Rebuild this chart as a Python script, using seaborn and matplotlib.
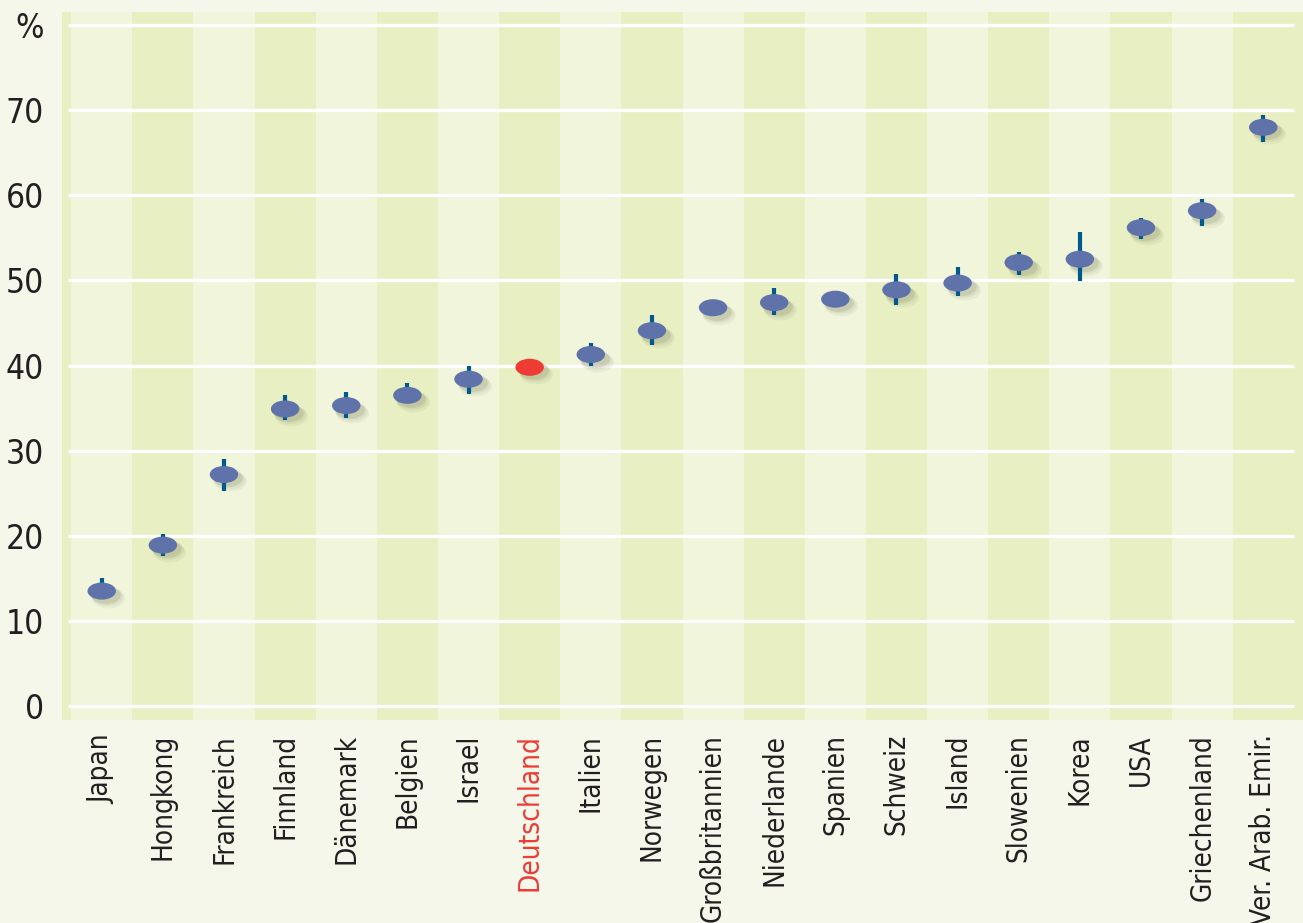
import numpy as np
import pandas as pd
import matplotlib
matplotlib.use("Agg")
import matplotlib.pyplot as plt
import matplotlib.path as mpath
import matplotlib.transforms as mtrans
import seaborn as sns

# Werte
laender = ["Japan", "Hongkong", "Frankreich", "Finnland", "Dänemark", "Belgien",
           "Israel", "Deutschland", "Italien", "Norwegen", "Großbritannien",
           "Niederlande", "Spanien", "Schweiz", "Island", "Slowenien", "Korea",
           "USA", "Griechenland", "Ver. Arab. Emir."]
werte = [13.5, 18.9, 27.2, 34.9, 35.3, 36.5, 38.4, 39.8, 41.3, 44.1,
         46.8, 47.4, 47.8, 48.9, 49.7, 52.1, 52.5, 56.2, 58.2, 68.0]
unten = [12.6, 17.6, 25.3, 33.6, 33.8, 35.6, 36.7, 39.8, 39.9, 42.4,
         46.8, 45.9, 47.8, 47.1, 48.2, 50.7, 49.9, 54.9, 56.4, 66.3]
oben = [15.0, 20.2, 29.0, 36.6, 36.9, 37.9, 40.0, 39.8, 42.6, 45.9,
        46.8, 49.1, 47.8, 50.8, 51.6, 53.4, 55.7, 57.4, 59.6, 69.5]
yticks = [0, 10, 20, 30, 40, 50, 60, 70, 80]
ylabels = ["0", "10", "20", "30", "40", "50", "60", "70", "%"]

df = pd.DataFrame({"land": laender, "wert": werte, "unten": unten, "oben": oben})
df["farbe"] = np.where(df["land"] == "Deutschland", "de", "andere")

sns.set_theme(style="white")
plt.rcParams["font.family"] = ["DejaVu Sans"]
plt.rcParams["font.stretch"] = "condensed"

bg = "#f5f7ea"
hell = "#f0f5db"
dunkel = "#e7efc3"

fig = plt.figure(figsize=(13.03, 9.23), dpi=100, facecolor=bg)
ax = fig.add_axes([62 / 1303, 1 - 720 / 923, 1 - 62 / 1303, (720 - 12) / 923])
ax.set_facecolor(dunkel)

# helle Streifen
for i in range(0, len(laender), 2):
    ax.axvspan(i - 0.5, i + 0.5, color=hell, lw=0, zorder=0)

# weisse Gitterlinien
ax.hlines(yticks, -0.56, 19.5, color="white", lw=2.4, zorder=1)

# ellipsenfoermiger Marker
kreis = mpath.Path.unit_circle()
ellipse = mpath.Path(kreis.vertices * np.array([1.0, 0.6]), kreis.codes)

# Schatten (weich, nach rechts unten versetzt)
for dx, dy, s, a in [(3, -3, 470, 0.08), (5, -5, 520, 0.08), (6, -7, 560, 0.07), (4, -4, 440, 0.10)]:
    sns.scatterplot(data=df, x="land", y="wert", marker=ellipse, s=s,
                    color="#6f6f50", alpha=a, linewidth=0, legend=False, ax=ax, zorder=2)
    coll = ax.collections[-1]
    coll.set_offset_transform(ax.transData + mtrans.ScaledTranslation(dx / 100, dy / 100, fig.dpi_scale_trans))

# Fehlerbalken
ax.vlines(np.arange(len(laender)), df["unten"], df["oben"], color="#005a8e", lw=3.0, zorder=3)

sns.scatterplot(data=df, x="land", y="wert", hue="farbe", marker=ellipse, s=420,
                palette={"andere": "#5f73aa", "de": "#ee3b34"}, linewidth=0,
                legend=False, ax=ax, zorder=4)

ax.set_xlim(-0.65, 19.65)
ax.set_ylim(-1.65, 81.55)
ax.set_yticks(yticks)
ax.set_yticklabels(ylabels, fontsize=24, color="#231f20")
ax.set_xticks(range(len(laender)))
ax.set_xticklabels(laender, rotation=90, fontsize=20, color="#231f20", va="top")
ax.get_xticklabels()[laender.index("Deutschland")].set_color("#ee3b34")
ax.tick_params(axis="y", length=0, pad=13)
ax.tick_params(axis="x", length=0, pad=10)
ax.set_xlabel("")
ax.set_ylabel("")
for sp in ax.spines.values():
    sp.set_visible(False)

plt.savefig("out.png", dpi=100, facecolor=bg)
